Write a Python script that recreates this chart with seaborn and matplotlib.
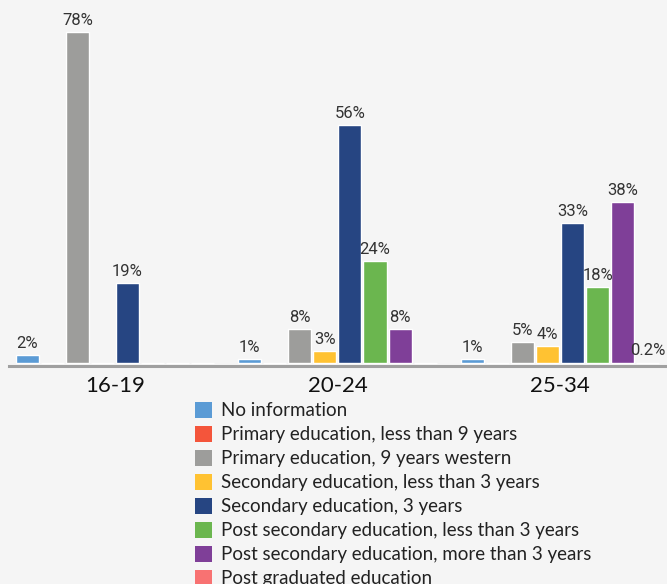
import pandas as pd
import seaborn as sns
import matplotlib.pyplot as plt
from matplotlib.patches import Patch

# Data
age_groups = ['16-19', '20-24', '25-34']
education_levels = [
    'No information',
    'Primary education, less than 9 years',
    'Primary education, 9 years western',
    'Secondary education, less than 3 years',
    'Secondary education, 3 years',
    'Post secondary education, less than 3 years',
    'Post secondary education, more than 3 years',
    'Post graduated education',
]
share_16_19 = [2, 0, 78, 0, 19, 0, 0, 0]
share_20_24 = [1, 0, 8, 3, 56, 24, 8, 0]
share_25_34 = [1, 0, 5, 4, 33, 18, 38, 0.2]
colors = ['#5b9bd5', '#f4553b', '#9d9d9b', '#ffc232',
          '#264582', '#6bb64f', '#7f3f98', '#f87272']

rows = []
for age, vals in zip(age_groups, [share_16_19, share_20_24, share_25_34]):
    for level, v in zip(education_levels, vals):
        rows.append({'age': age, 'level': level, 'share': v})
df = pd.DataFrame(rows)

sns.set_style('white')
plt.rcParams['font.family'] = ['Lato', 'DejaVu Sans']
bg = '#f5f5f5'

fig = plt.figure(figsize=(6.67, 5.84), dpi=100, facecolor=bg)
ax = fig.add_axes([9 / 667, (584 - 366) / 584, 656 / 667, 366 / 584])
ax.set_facecolor(bg)

sns.barplot(data=df, x='age', y='share', hue='level', order=age_groups,
            hue_order=education_levels, palette=colors, width=0.9, gap=0.08,
            saturation=1, legend=False, ax=ax)

for cont in ax.containers:
    ax.bar_label(cont, fmt=lambda v: '' if v == 0 else f'{v:g}%', padding=3,
                 fontsize=12, color='#333333', family=['Roboto', 'DejaVu Sans'])

ax.set_xlim(-0.476, 2.472)
ax.set_ylim(-0.6, 85.5)
ax.set_xlabel('')
ax.set_ylabel('')
ax.set_yticks([])
ax.tick_params(axis='x', length=0, labelsize=16, pad=7, labelcolor='#111111')
for side in ['top', 'left', 'right']:
    ax.spines[side].set_visible(False)
ax.spines['bottom'].set_color('#a0a0a0')
ax.spines['bottom'].set_linewidth(2.2)
ax.spines['bottom'].set_position(('data', -0.6))

handles = [Patch(facecolor=c, edgecolor='none') for c in colors]
fig.legend(handles, education_levels, loc='upper left',
           bbox_to_anchor=(195 / 667, 1 - 402 / 584), frameon=False,
           fontsize=13.5, handlelength=0.9, handleheight=0.9,
           handletextpad=0.5, labelspacing=0.36, borderaxespad=0,
           borderpad=0, labelcolor='#222222')

fig.savefig('out.png', dpi=100, facecolor=bg)
